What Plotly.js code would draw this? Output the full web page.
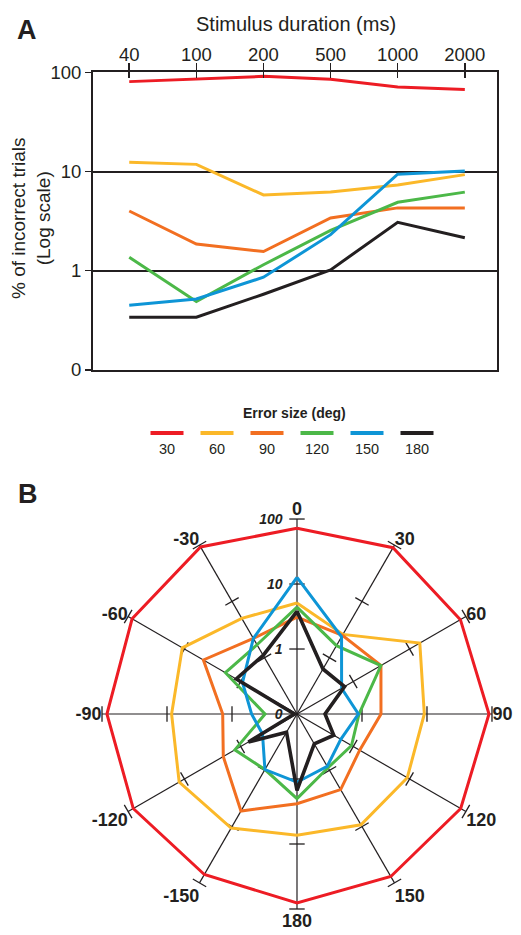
<!DOCTYPE html>
<html><head><meta charset="utf-8">
<script src="https://cdn.plot.ly/plotly-3.0.1.min.js"></script>
<style>html,body{margin:0;padding:0;background:#fff}#chart{width:521px;height:935px}</style>
</head><body><div id="chart"></div>
<script>
// ---------- data ----------
const durations = ['40', '100', '200', '500', '1000', '2000'];
const errorSizes = ['30', '60', '90', '120', '150', '180'];

// Panel A: % of incorrect trials by stimulus duration
const pct30  = [80.5, 86, 91, 85, 71, 67];
const pct60  = [12.4, 11.8, 5.8, 6.2, 7.3, 9.3];
const pct90  = [4.0, 1.86, 1.56, 3.4, 4.3, 4.3];
const pct120 = [1.37, 0.49, 1.15, 2.55, 4.9, 6.2];
const pct150 = [0.45, 0.52, 0.86, 2.31, 9.4, 10.1];
const pct180 = [0.34, 0.34, 0.58, 1.02, 3.08, 2.15];

// Panel B: % of incorrect trials by direction
const dirLabels = ['0', '30', '60', '90', '120', '150', '180', '-150', '-120', '-90', '-60', '-30'];
const dirAngles = [0, 30, 60, 90, 120, 150, 180, 210, 240, 270, 300, 330];
const dir30  = [72, 90, 80, 90, 81, 77, 81, 71, 81, 84, 85, 93];
const dir60  = [5.1, 2.6, 15.2, 9.1, 9.1, 9.3, 7.3, 10.6, 12.4, 8.5, 10.9, 5.0];
const dir90  = [3.1, 2.5, 3.1, 1.96, 1.3, 2.2, 2.4, 5.3, 2.04, 1.39, 4.6, 2.2];
const dir120 = [4.4, 1.64, 3.1, 0.9, 0.93, 0.9, 2.0, 0.97, 1.27, 0.31, 1.87, 1.7];
const dir150 = [12.7, 2.35, 0.62, 0.88, 0.6, 0.85, 1.12, 0.97, 0.41, 0.5, 0.93, 2.2];
const dir180 = [3.8, 0.63, 0.7, 0.27, 0.45, 0.34, 1.5, 0.21, 0.73, 0.11, 1.2, 1.1];

const logTickVals = [0.1, 1, 10, 100];
const logTickText = ['0', '1', '10', '100'];

const xTitle = 'Stimulus duration (ms)';
const yTitle = '% of incorrect trials<br>(Log scale)';
const legendTitle = 'Error size (deg)';

// ---------- styling ----------
const ink = '#231F20';
const colors = ['#ED1C24', '#FBB829', '#F26F21', '#4CB848', '#0E95D6', '#231F20'];
const FONT = 'Liberation Sans, Arial, Helvetica, sans-serif';
const seriesA = [pct30, pct60, pct90, pct120, pct150, pct180];
const seriesB = [dir30, dir60, dir90, dir120, dir150, dir180];

const traces = [];

// Panel A lines
seriesA.forEach((vals, i) => {
  traces.push({
    type: 'scatter', mode: 'lines', x: durations, y: vals,
    xaxis: 'x', yaxis: 'y', name: errorSizes[i],
    line: {color: colors[i], width: 3}, showlegend: false, hoverinfo: 'x+y'
  });
});
// overlay axis for inward tick marks
traces.push({type: 'scatter', x: [], y: [], xaxis: 'x2', yaxis: 'y', showlegend: false, hoverinfo: 'skip'});

// custom legend (line above label)
errorSizes.forEach((lab, i) => {
  traces.push({
    type: 'scatter', mode: 'lines', x: [i - 0.33, i + 0.33], y: [1, 1],
    xaxis: 'x3', yaxis: 'y3', line: {color: colors[i], width: 4},
    showlegend: false, hoverinfo: 'skip'
  });
});
traces.push({
  type: 'scatter', mode: 'text', x: errorSizes.map((_, i) => i), y: errorSizes.map(() => 0),
  text: errorSizes, textposition: 'middle center',
  textfont: {family: FONT, size: 14.5, color: ink},
  xaxis: 'x3', yaxis: 'y3', showlegend: false, hoverinfo: 'skip'
});

// Panel B: spoke tick marks at 1, 10, 100
const tickR = [], tickTheta = [];
dirAngles.forEach(a => logTickVals.slice(1).forEach(v => { tickR.push(v); tickTheta.push(a); }));
traces.push({
  type: 'scatterpolar', mode: 'markers', r: tickR, theta: tickTheta,
  marker: {symbol: 'line-ew', size: 11, angle: tickTheta, color: ink, line: {color: ink, width: 1.3}},
  cliponaxis: false, showlegend: false, hoverinfo: 'skip', subplot: 'polar'
});
// Panel B polygons
seriesB.forEach((vals, i) => {
  traces.push({
    type: 'scatterpolar', mode: 'lines',
    r: vals.concat([vals[0]]), theta: dirAngles.concat([dirAngles[0]]),
    name: errorSizes[i], line: {color: colors[i], width: i === 5 ? 3.6 : 3},
    showlegend: false, subplot: 'polar', cliponaxis: false
  });
});

const xRange = [-0.54, 5.48];

const layout = {
  width: 521, height: 935,
  margin: {l: 0, r: 0, t: 0, b: 0},
  paper_bgcolor: '#fff', plot_bgcolor: 'rgba(0,0,0,0)',
  font: {family: FONT, color: ink, size: 18},
  showlegend: false,
  xaxis: {
    type: 'category', domain: [0.1785, 0.954], anchor: 'y', side: 'top',
    range: xRange, categoryorder: 'array', categoryarray: durations,
    showline: true, linecolor: ink, linewidth: 2, mirror: true,
    ticks: 'outside', ticklen: 7, tickwidth: 1.5, tickcolor: ink,
    ticklabelstandoff: -5,
    showgrid: false, zeroline: false,
    tickfont: {size: 18.5, color: ink}
  },
  xaxis2: {
    type: 'linear', overlaying: 'x', anchor: 'y', side: 'top', range: xRange,
    tickmode: 'array', tickvals: durations.map((_, i) => i),
    ticks: 'inside', ticklen: 6, tickwidth: 1.5, tickcolor: ink,
    showticklabels: false, showline: false, showgrid: false, zeroline: false
  },
  yaxis: {
    type: 'log', domain: [0.6043, 0.9227], anchor: 'x', range: [-1, 2],
    tickmode: 'array', tickvals: logTickVals, ticktext: logTickText,
    showline: true, linecolor: ink, linewidth: 2, mirror: true,
    ticks: 'outside', ticklen: 6, tickwidth: 1.5, tickcolor: ink,
    showgrid: true, gridcolor: ink, gridwidth: 2, zeroline: false,
    tickfont: {size: 18.5, color: ink}
  },
  xaxis3: {domain: [0, 1], anchor: 'y3', range: [-3.34, 7.08], visible: false, fixedrange: true},
  yaxis3: {domain: [0.5005, 0.5551], anchor: 'x3', range: [-1, 2], visible: false, fixedrange: true},
  polar: {
    domain: {x: [0.1958, 0.9443], y: [0.0278, 0.4449]},
    bgcolor: 'rgba(0,0,0,0)',
    angularaxis: {
      type: 'linear', rotation: 90, direction: 'clockwise',
      tickmode: 'array', tickvals: dirAngles, ticktext: dirLabels,
      showline: false, showgrid: true, gridcolor: ink, gridwidth: 1.2,
      ticks: '', tickfont: {size: 18, weight: 'bold', color: ink}
    },
    radialaxis: {
      type: 'log', range: [-1, 2], angle: 90, side: 'counterclockwise', tickangle: 90,
      tickmode: 'array', tickvals: logTickVals, ticktext: logTickText,
      showgrid: false, showline: false,
      ticks: 'outside', ticklen: 9, tickcolor: 'rgba(0,0,0,0)',
      tickfont: {size: 14, style: 'italic', weight: 'bold', color: ink}
    }
  },
  annotations: [
    {text: xTitle, xref: 'paper', yref: 'paper', x: 0.569, y: 0.9743, showarrow: false,
     font: {size: 20, color: ink}, xanchor: 'center', yanchor: 'middle'},
    {text: yTitle, xref: 'paper', yref: 'paper', x: 0.0595, y: 0.7668, showarrow: false,
     textangle: -90, font: {size: 19, color: ink}, xanchor: 'center', yanchor: 'middle'},
    {text: 'A', xref: 'paper', yref: 'paper', x: 0.0509, y: 0.9684, showarrow: false,
     font: {size: 27, weight: 'bold', color: ink}, xanchor: 'center', yanchor: 'middle'},
    {text: 'B', xref: 'paper', yref: 'paper', x: 0.0547, y: 0.4717, showarrow: false,
     font: {size: 27, weight: 'bold', color: ink}, xanchor: 'center', yanchor: 'middle'},
    {text: legendTitle, xref: 'paper', yref: 'paper', x: 0.5653, y: 0.5588, showarrow: false,
     font: {size: 14, weight: 'bold', color: ink}, xanchor: 'center', yanchor: 'middle'}
  ]
};

Plotly.newPlot('chart', traces, layout, {displayModeBar: false, staticPlot: true});
</script>
</body></html>
